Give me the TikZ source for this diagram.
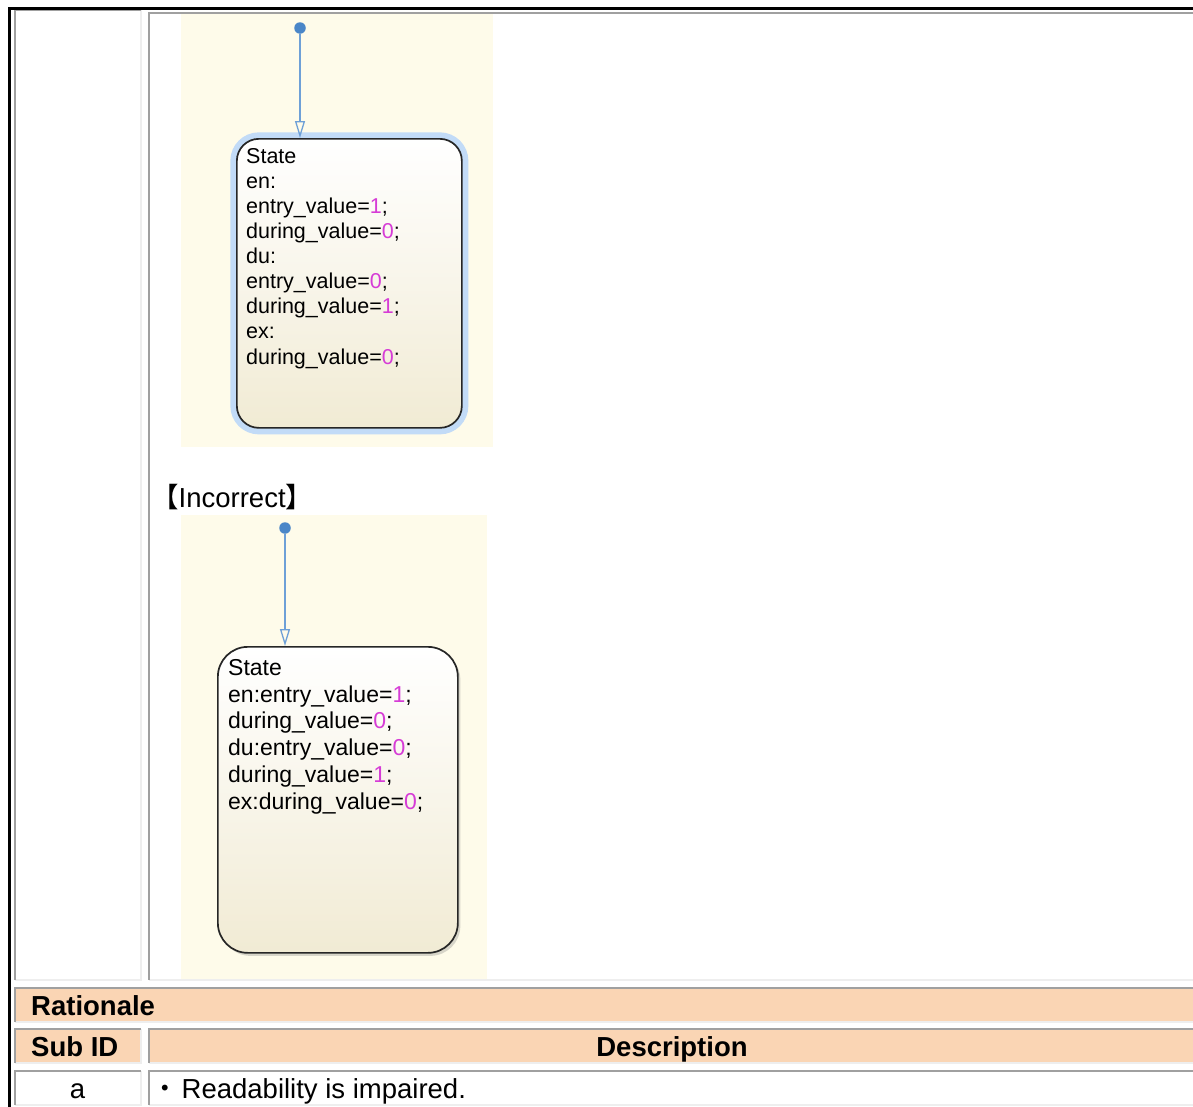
\documentclass[tikz,border=0pt]{standalone}
\usepackage{fontspec}
\setmainfont{Liberation Sans}
\newfontfamily\cjk{Noto Sans CJK JP}
\usetikzlibrary{arrows.meta, positioning, shadows}
\definecolor{chartbg}{RGB}{254,251,234}
\definecolor{hdrfill}{RGB}{250,213,180}
\definecolor{edgedk}{RGB}{160,160,160}
\definecolor{edgelt}{RGB}{238,238,238}
\definecolor{trans}{RGB}{110,160,215}
\definecolor{dotblue}{RGB}{74,134,200}
\definecolor{glow}{RGB}{194,219,247}
\definecolor{beige}{RGB}{241,235,212}
\definecolor{num}{RGB}{214,60,214}
\newcommand{\nm}[1]{\textcolor{num}{#1}}
\newcommand{\tcell}[5]{\fill[#5](#1,#2)rectangle(#3,#4);\draw[edgelt,line width=2pt](#1,#4)-|(#3,#2);\draw[edgedk,line width=2pt](#1,#4)|-(#3,#2);}

\begin{document}
\begin{tikzpicture}[x=1pt,y=-1pt, st/.style={rectangle,draw=black!85,line width=1.7pt,top color=white,bottom color=beige,anchor=north west,inner sep=0pt}, ini/.style={circle,fill=dotblue,inner sep=0pt,minimum size=11.5pt}, tr/.style={-{Triangle[open,length=17pt,width=10pt]},trans,line width=1.3pt}, txt/.style={align=left,inner sep=0pt}, hd/.style={inner sep=0pt,font=\fontsize{27.5}{32}\selectfont\bfseries}, cl/.style={inner sep=0pt,font=\fontsize{27.5}{32}\selectfont}]
  \useasboundingbox (0,0) rectangle (1193,1106);
  \tcell{14.5}{10}{141}{980}{white}
  \tcell{149}{13}{1197}{980}{white}
  \tcell{14.5}{988}{1197}{1022}{hdrfill}
  \tcell{14.5}{1029}{141}{1063}{hdrfill}
  \tcell{149}{1029}{1197}{1063}{hdrfill}
  \tcell{14.5}{1071}{141}{1105}{white}
  \tcell{149}{1071}{1197}{1105}{white}
  \draw[line width=3pt](9,1110)|-(1200,8);
  \fill[chartbg](181,14)rectangle(493,447);
  \fill[chartbg](181,515)rectangle(487,979);
  \node[ini](i1) at (300,28){};
  \node[st,preaction={draw=glow,line width=13pt},minimum width=225pt,minimum height=289pt,rounded corners=22pt](s1) at (236,138){};
  \node[txt,font=\fontsize{21.5}{25.1}\selectfont,below right=10pt and 10pt of s1.north west](t1){State\\en:\\entry\_value=\nm{1};\\during\_value=\nm{0};\\du:\\entry\_value=\nm{0};\\during\_value=\nm{1};\\ex:\\during\_value=\nm{0};};
  \node[cl,anchor=base west](inc) at (151,507){{\cjk 【}Incorrect{\cjk 】}};
  \node[ini](i2) at (285,528){};
  \node[st,drop shadow={shadow xshift=2.5pt,shadow yshift=-3pt,opacity=0.3},minimum width=240pt,minimum height=306pt,rounded corners=30pt](s2) at (217,646){};
  \node[txt,font=\fontsize{23}{26.8}\selectfont,below right=13pt and 11pt of s2.north west](t2){State\\en:entry\_value=\nm{1};\\during\_value=\nm{0};\\du:entry\_value=\nm{0};\\during\_value=\nm{1};\\ex:during\_value=\nm{0};};
  \foreach \i in {1,2}{\draw[tr](i\i)--(i\i|-s\i.north);}
  \node[hd,anchor=base west](rat) at (31,1015){Rationale};
  \node[hd,anchor=base west](sub) at (31,1056){Sub ID};
  \node[hd,anchor=base](desc) at (672,1056){Description};
  \node[cl,anchor=base](sa) at (77.5,1098){a};
  \node[cl,anchor=base west](da) at (151,1098){{\cjk ・}\kern3pt Readability is impaired.};
\end{tikzpicture}
\end{document}
